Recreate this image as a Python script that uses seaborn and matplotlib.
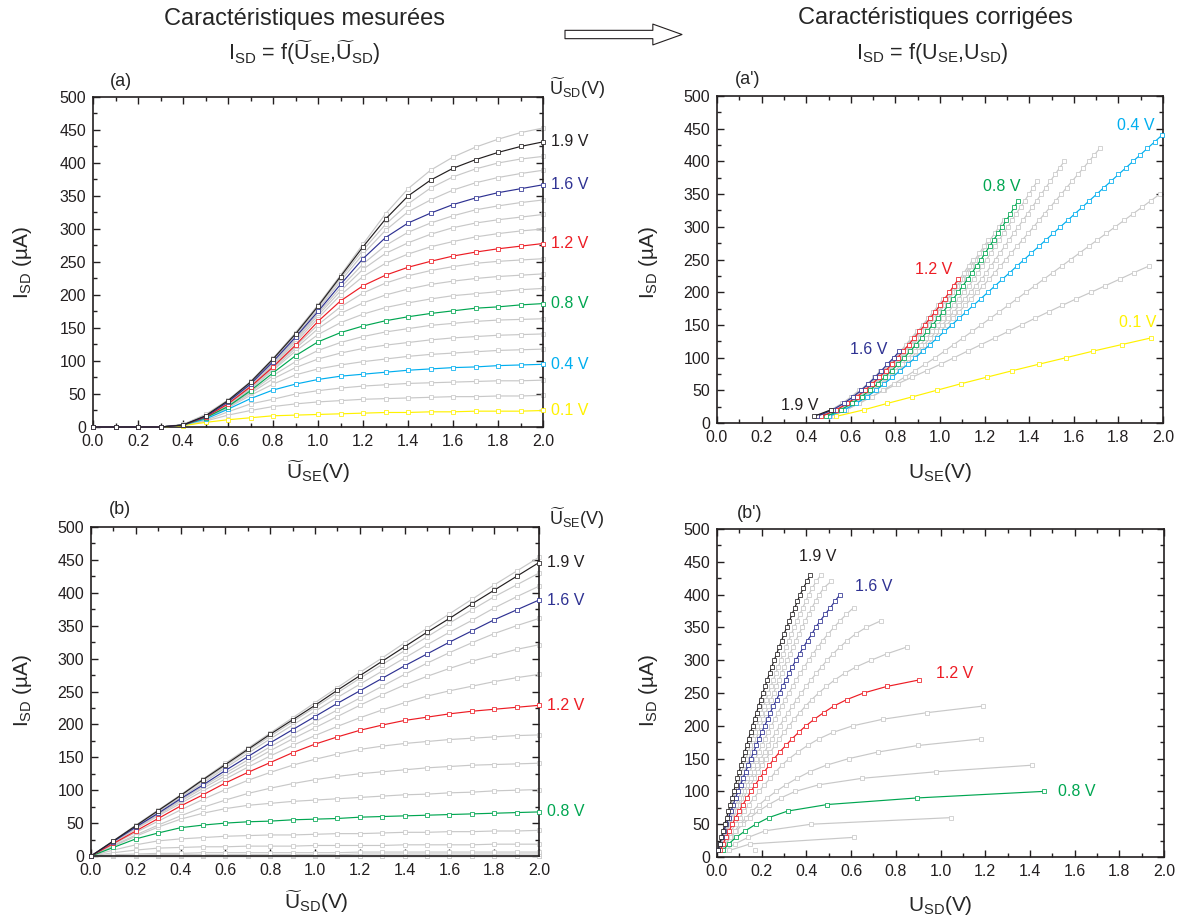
import matplotlib
matplotlib.use("Agg")
import matplotlib.pyplot as plt
from matplotlib.patches import FancyArrowPatch, ArrowStyle
from matplotlib.ticker import MultipleLocator, FormatStrFormatter
import seaborn as sns

sns.set_style("ticks")
plt.rcParams["font.family"] = ["Liberation Sans", "DejaVu Sans"]
plt.rcParams["mathtext.fontset"] = "custom"
plt.rcParams["mathtext.rm"] = "Liberation Sans"
plt.rcParams["mathtext.it"] = "Liberation Sans:italic"
plt.rcParams["mathtext.bf"] = "Liberation Sans:bold"

# ---------------------------------------------------------------- data
# measured voltage grid (V), used as x for (a) and (b)
U_GRID = [0.0, 0.1, 0.2, 0.3, 0.4, 0.5, 0.6, 0.7, 0.8, 0.9, 1.0,
          1.1, 1.2, 1.3, 1.4, 1.5, 1.6, 1.7, 1.8, 1.9, 2.0]

# current steps of the corrected curves (uA), used as y for (a') and (b')
I_STEPS = [10, 20, 30, 40, 50, 60, 70, 80, 90, 100, 110, 120, 130, 140, 150,
           160, 170, 180, 190, 200, 210, 220, 230, 240, 250, 260, 270, 280,
           290, 300, 310, 320, 330, 340, 350, 360, 370, 380, 390, 400, 410,
           420, 430, 440]

# (a) I_SD vs U_SE~, one row per U_SD~
A_LABELS = ["0.1", "0.2", "0.3", "0.4", "0.5", "0.6", "0.7", "0.8", "0.9", "1.0",
            "1.1", "1.2", "1.3", "1.4", "1.5", "1.6", "1.7", "1.8", "1.9", "2.0"]
A_CURRENT = [
    [0, 0, 0, 0, 2, 7, 11, 14, 17, 18, 19, 20, 21, 22, 22, 23, 23, 24, 24, 24, 25],
    [0, 0, 0, 0, 2, 9, 18, 25, 31, 35, 38, 40, 42, 43, 44, 45, 46, 46, 47, 47, 48],
    [0, 0, 0, 0, 3, 10, 23, 35, 42, 50, 55, 59, 62, 64, 66, 67, 68, 69, 70, 70, 71],
    [0, 0, 0, 0, 3, 12, 27, 43, 56, 65, 72, 77, 80, 83, 86, 88, 90, 91, 93, 94, 95],
    [0, 0, 0, 0, 3, 13, 29, 48, 65, 79, 88, 94, 99, 103, 107, 110, 112, 114, 116, 117, 118],
    [0, 0, 0, 0, 3, 14, 30, 51, 73, 90, 103, 112, 119, 124, 128, 132, 135, 137, 139, 140, 141],
    [0, 0, 0, 0, 3, 14, 31, 53, 78, 99, 116, 128, 137, 144, 149, 154, 157, 160, 162, 163, 164],
    [0, 0, 0, 0, 3, 14, 31, 55, 82, 108, 129, 143, 153, 161, 167, 172, 176, 180, 182, 185, 187],
    [0, 0, 0, 0, 3, 15, 32, 57, 86, 115, 140, 158, 171, 181, 188, 194, 199, 202, 205, 208, 210],
    [0, 0, 0, 0, 3, 15, 33, 58, 88, 119, 149, 172, 188, 200, 209, 216, 221, 225, 228, 230, 232],
    [0, 0, 0, 0, 3, 15, 34, 60, 90, 122, 155, 182, 203, 218, 229, 237, 243, 248, 251, 253, 255],
    [0, 0, 0, 0, 3, 15, 35, 61, 91, 124, 160, 191, 214, 230, 242, 251, 259, 265, 270, 274, 278],
    [0, 0, 0, 0, 3, 15, 36, 62, 93, 128, 165, 200, 228, 248, 262, 273, 281, 288, 293, 297, 300],
    [0, 0, 0, 0, 3, 16, 36, 63, 95, 131, 169, 206, 239, 263, 279, 292, 302, 309, 314, 318, 322],
    [0, 0, 0, 0, 3, 16, 37, 64, 97, 133, 172, 211, 247, 275, 295, 309, 320, 329, 335, 340, 344],
    [0, 0, 0, 0, 3, 16, 38, 65, 99, 136, 175, 216, 255, 287, 309, 324, 337, 347, 355, 361, 367],
    [0, 0, 0, 0, 3, 17, 39, 66, 101, 138, 178, 221, 262, 298, 326, 344, 359, 370, 378, 384, 389],
    [0, 0, 0, 0, 3, 17, 39, 67, 102, 140, 181, 225, 268, 307, 338, 362, 379, 391, 400, 406, 410],
    [0, 0, 0, 0, 3, 17, 40, 68, 103, 141, 183, 228, 273, 315, 350, 374, 392, 405, 416, 425, 432],
    [0, 0, 0, 0, 4, 19, 41, 69, 104, 143, 185, 230, 277, 323, 361, 389, 409, 424, 436, 446, 453],
]

# (b) I_SD vs U_SD~, one row per U_SE~
B_LABELS = ["0.1", "0.2", "0.3", "0.4", "0.5", "0.6", "0.7", "0.8", "0.9", "1.0",
            "1.1", "1.2", "1.3", "1.4", "1.5", "1.6", "1.7", "1.8", "1.9", "2.0"]
B_CURRENT = [
    [0, 0, 0, 0, 0, 0, 0, 0, 0, 0, 0, 0, 0, 0, 0, 0, 0, 0, 0, 0, 0],
    [0, 0, 0, 0, 0, 0, 0, 0, 0, 0, 0, 0, 0, 0, 0, 0, 0, 0, 0, 0, 0],
    [0, 0, 0, 0, 0, 0, 0, 0, 0, 0, 0, 0, 0, 0, 0, 0, 0, 0, 0, 0, 0],
    [0, 1, 1, 2, 2, 2, 2, 2, 2, 2, 2, 2, 3, 3, 3, 3, 3, 3, 3, 3, 3],
    [0, 2, 3, 4, 4, 5, 5, 5, 5, 5, 5, 5, 6, 6, 6, 6, 6, 6, 6, 6, 6],
    [0, 5, 9, 12, 13, 14, 14, 15, 15, 15, 16, 16, 16, 16, 17, 17, 17, 17, 18, 18, 18],
    [0, 9, 17, 23, 26, 28, 30, 31, 32, 32, 33, 34, 34, 35, 36, 36, 37, 37, 38, 38, 39],
    [0, 13, 26, 35, 43, 47, 50, 52, 53, 55, 56, 57, 59, 60, 61, 62, 63, 64, 65, 66, 67],
    [0, 15, 30, 44, 56, 65, 72, 77, 80, 83, 85, 87, 89, 91, 93, 94, 96, 97, 99, 100, 101],
    [0, 16, 32, 47, 61, 74, 85, 95, 103, 110, 116, 121, 125, 128, 131, 134, 136, 138, 139, 140, 141],
    [0, 18, 36, 53, 70, 86, 101, 115, 127, 138, 147, 155, 162, 167, 171, 174, 177, 179, 181, 183, 184],
    [0, 19, 38, 57, 76, 93, 111, 127, 142, 157, 170, 181, 191, 199, 206, 211, 216, 220, 223, 226, 229],
    [0, 20, 41, 61, 80, 99, 117, 135, 152, 168, 183, 197, 210, 222, 233, 243, 251, 258, 265, 271, 276],
    [0, 21, 42, 63, 83, 103, 122, 141, 160, 178, 195, 212, 229, 245, 260, 273, 285, 296, 305, 314, 321],
    [0, 22, 43, 64, 85, 106, 126, 146, 166, 185, 204, 222, 240, 258, 276, 293, 309, 324, 338, 350, 361],
    [0, 22, 44, 65, 87, 108, 130, 151, 172, 192, 212, 232, 251, 270, 289, 307, 325, 342, 359, 374, 389],
    [0, 22, 45, 67, 89, 111, 134, 156, 178, 199, 220, 241, 261, 281, 301, 321, 340, 358, 377, 394, 410],
    [0, 23, 46, 68, 91, 114, 137, 160, 182, 204, 226, 248, 270, 291, 312, 333, 354, 374, 394, 412, 430],
    [0, 23, 46, 69, 92, 116, 139, 162, 185, 207, 229, 252, 274, 296, 318, 340, 361, 383, 404, 425, 446],
    [0, 23, 47, 70, 93, 117, 141, 164, 187, 210, 233, 256, 279, 301, 324, 346, 368, 390, 412, 433, 454],
]

# (a') corrected U_SE (V) at each current step, one curve per U_SD
AP_LABELS = ["0.1", "0.2", "0.3", "0.4", "0.5", "0.6", "0.7", "0.8", "0.9", "1.0",
             "1.1", "1.2", "1.3", "1.4", "1.5", "1.6", "1.7", "1.8", "1.9"]
AP_USE = [
    [0.533, 0.657, 0.764, 0.876, 0.985, 1.094, 1.209, 1.325, 1.445, 1.567, 1.688, 1.816, 1.945],
    [0.515, 0.58, 0.635, 0.69, 0.75, 0.81, 0.875, 0.94, 1.003, 1.064, 1.124, 1.185, 1.246,
     1.306, 1.366, 1.425, 1.487, 1.549, 1.612, 1.678, 1.742, 1.806, 1.87, 1.937],
    [0.508, 0.578, 0.638, 0.693, 0.744, 0.793, 0.841, 0.888, 0.934, 0.979, 1.021, 1.062,
     1.103, 1.144, 1.185, 1.225, 1.266, 1.306, 1.346, 1.386, 1.426, 1.466, 1.506, 1.546,
     1.586, 1.626, 1.666, 1.706, 1.746, 1.786, 1.826, 1.866, 1.906, 1.946, 1.986],
    [0.50, 0.57, 0.625, 0.672, 0.713, 0.75, 0.786, 0.821, 0.856, 0.89, 0.923, 0.955, 0.988,
     1.02, 1.053, 1.085, 1.118, 1.15, 1.183, 1.215, 1.248, 1.28, 1.313, 1.345, 1.378, 1.41,
     1.443, 1.475, 1.508, 1.54, 1.573, 1.605, 1.638, 1.67, 1.703, 1.735, 1.768, 1.80, 1.833,
     1.865, 1.898, 1.93, 1.963, 1.995],
    [0.497, 0.566, 0.621, 0.668, 0.71, 0.748, 0.784, 0.819, 0.852, 0.884, 0.914, 0.944,
     0.973, 1.002, 1.03, 1.058, 1.086, 1.113, 1.14, 1.167, 1.194, 1.221, 1.246, 1.271,
     1.296, 1.32, 1.345, 1.37, 1.395, 1.42, 1.444, 1.469, 1.494, 1.519, 1.544, 1.568,
     1.593, 1.618, 1.643, 1.668, 1.692, 1.717],
    [0.495, 0.563, 0.617, 0.663, 0.704, 0.741, 0.776, 0.81, 0.842, 0.872, 0.901, 0.929,
     0.957, 0.984, 1.01, 1.036, 1.062, 1.087, 1.112, 1.137, 1.162, 1.187, 1.208, 1.228,
     1.249, 1.269, 1.29, 1.31, 1.331, 1.351, 1.372, 1.393, 1.413, 1.434, 1.454, 1.475,
     1.495, 1.516, 1.536, 1.557],
    [0.492, 0.56, 0.612, 0.657, 0.696, 0.732, 0.766, 0.798, 0.829, 0.858, 0.886, 0.913,
     0.939, 0.965, 0.99, 1.014, 1.038, 1.061, 1.084, 1.107, 1.13, 1.152, 1.171, 1.19,
     1.209, 1.228, 1.247, 1.266, 1.285, 1.304, 1.323, 1.342, 1.361, 1.38, 1.399, 1.418, 1.437],
    [0.49, 0.555, 0.605, 0.648, 0.685, 0.72, 0.752, 0.783, 0.812, 0.84, 0.867, 0.893,
     0.918, 0.943, 0.967, 0.991, 1.014, 1.037, 1.06, 1.082, 1.103, 1.124, 1.144, 1.164,
     1.184, 1.203, 1.222, 1.241, 1.26, 1.279, 1.298, 1.316, 1.334, 1.35],
    [0.485, 0.55, 0.60, 0.643, 0.68, 0.714, 0.746, 0.776, 0.804, 0.831, 0.857, 0.882,
     0.906, 0.93, 0.953, 0.976, 0.998, 1.02, 1.042, 1.063, 1.084, 1.105, 1.125, 1.145,
     1.165, 1.185, 1.205, 1.225, 1.245, 1.265, 1.285],
    [0.48, 0.547, 0.596, 0.638, 0.675, 0.709, 0.74, 0.77, 0.798, 0.825, 0.851, 0.876,
     0.9, 0.924, 0.947, 0.97, 0.992, 1.014, 1.035, 1.056, 1.077, 1.097, 1.117, 1.137,
     1.157, 1.177, 1.197, 1.217],
    [0.475, 0.542, 0.59, 0.632, 0.669, 0.703, 0.734, 0.763, 0.791, 0.818, 0.843, 0.868,
     0.892, 0.915, 0.938, 0.96, 0.982, 1.004, 1.025, 1.046, 1.067, 1.088, 1.108, 1.128, 1.148],
    [0.468, 0.535, 0.585, 0.627, 0.663, 0.697, 0.728, 0.757, 0.784, 0.81, 0.835, 0.86,
     0.884, 0.908, 0.932, 0.955, 0.978, 1.0, 1.021, 1.042, 1.062, 1.082],
    [0.46, 0.53, 0.58, 0.621, 0.657, 0.69, 0.72, 0.75, 0.777, 0.803, 0.829, 0.854, 0.878,
     0.902, 0.925, 0.948, 0.97, 0.992, 1.013],
    [0.456, 0.526, 0.576, 0.617, 0.653, 0.686, 0.716, 0.745, 0.772, 0.8, 0.826, 0.851,
     0.876, 0.9, 0.923, 0.946, 0.969],
    [0.452, 0.522, 0.572, 0.613, 0.649, 0.682, 0.712, 0.74, 0.768, 0.797, 0.823, 0.848,
     0.872, 0.896],
    [0.448, 0.518, 0.568, 0.61, 0.646, 0.679, 0.709, 0.737, 0.764, 0.793, 0.818],
    [0.444, 0.514, 0.564, 0.606, 0.642, 0.675, 0.705, 0.733],
    [0.438, 0.511, 0.56, 0.601, 0.637],
    [0.433, 0.51],
]

# (b') corrected U_SD (V) at each current step, one curve per U_SE
BP_LABELS = ["0.5", "0.6", "0.7", "0.8", "0.9", "1.0", "1.1", "1.2", "1.3", "1.4",
             "1.5", "1.6", "1.7", "1.8", "1.9"]
BP_USD = [
    [0.171],
    [0.055, 0.149, 0.615],
    [0.035, 0.08, 0.14, 0.216, 0.422, 1.046],
    [0.027, 0.052, 0.086, 0.127, 0.174, 0.231, 0.316, 0.494, 0.894, 1.461],
    [0.02, 0.04, 0.062, 0.087, 0.115, 0.148, 0.186, 0.232, 0.285, 0.35, 0.455, 0.65,
     0.982, 1.411],
    [0.018, 0.037, 0.058, 0.08, 0.104, 0.13, 0.158, 0.19, 0.225, 0.264, 0.308, 0.358,
     0.415, 0.49, 0.59, 0.72, 0.9, 1.182],
    [0.014, 0.03, 0.046, 0.064, 0.083, 0.102, 0.122, 0.143, 0.165, 0.188, 0.212, 0.238,
     0.263, 0.29, 0.323, 0.362, 0.405, 0.455, 0.519, 0.608, 0.742, 0.939, 1.189],
    [0.013, 0.027, 0.04, 0.054, 0.069, 0.083, 0.1, 0.116, 0.134, 0.152, 0.171, 0.191,
     0.212, 0.234, 0.256, 0.28, 0.308, 0.335, 0.365, 0.398, 0.435, 0.477, 0.522, 0.581,
     0.656, 0.76, 0.906],
    [0.009, 0.02, 0.032, 0.045, 0.059, 0.073, 0.088, 0.103, 0.118, 0.134, 0.15, 0.167,
     0.184, 0.202, 0.22, 0.239, 0.259, 0.279, 0.3, 0.322, 0.345, 0.37, 0.396, 0.424,
     0.455, 0.489, 0.527, 0.571, 0.624, 0.69, 0.762, 0.849],
    [0.008, 0.018, 0.029, 0.041, 0.054, 0.067, 0.08, 0.094, 0.108, 0.122, 0.136, 0.151,
     0.166, 0.181, 0.197, 0.213, 0.229, 0.246, 0.263, 0.281, 0.299, 0.318, 0.337, 0.357,
     0.378, 0.399, 0.421, 0.444, 0.468, 0.493, 0.52, 0.55, 0.583, 0.62, 0.668, 0.733],
    [0.007, 0.016, 0.026, 0.037, 0.049, 0.061, 0.073, 0.085, 0.097, 0.109, 0.121, 0.134,
     0.147, 0.16, 0.173, 0.186, 0.2, 0.214, 0.228, 0.243, 0.258, 0.273, 0.289, 0.305,
     0.321, 0.338, 0.355, 0.373, 0.391, 0.41, 0.43, 0.451, 0.473, 0.497, 0.523, 0.55,
     0.579, 0.611],
    [0.006, 0.013, 0.022, 0.031, 0.042, 0.052, 0.063, 0.073, 0.083, 0.094, 0.106, 0.116,
     0.128, 0.14, 0.152, 0.164, 0.176, 0.188, 0.2, 0.213, 0.227, 0.238, 0.252, 0.267,
     0.28, 0.294, 0.308, 0.322, 0.337, 0.353, 0.37, 0.387, 0.405, 0.425, 0.441, 0.462,
     0.484, 0.507, 0.528, 0.55],
    [0.007, 0.015, 0.024, 0.033, 0.043, 0.053, 0.063, 0.072, 0.082, 0.092, 0.102, 0.112,
     0.122, 0.133, 0.143, 0.154, 0.164, 0.175, 0.186, 0.197, 0.208, 0.219, 0.23, 0.242,
     0.253, 0.265, 0.277, 0.289, 0.301, 0.314, 0.327, 0.34, 0.353, 0.367, 0.381, 0.395,
     0.41, 0.425, 0.441, 0.458, 0.477, 0.51],
    [0.006, 0.013, 0.021, 0.03, 0.039, 0.048, 0.057, 0.066, 0.075, 0.084, 0.093, 0.102,
     0.111, 0.121, 0.13, 0.14, 0.149, 0.159, 0.169, 0.179, 0.189, 0.199, 0.209, 0.22,
     0.23, 0.241, 0.252, 0.263, 0.274, 0.285, 0.297, 0.309, 0.321, 0.333, 0.345, 0.358,
     0.371, 0.384, 0.397, 0.411, 0.426, 0.444, 0.465],
    [0.005, 0.012, 0.019, 0.027, 0.035, 0.043, 0.051, 0.059, 0.067, 0.075, 0.083, 0.091,
     0.099, 0.107, 0.116, 0.124, 0.133, 0.141, 0.15, 0.159, 0.168, 0.177, 0.186, 0.195,
     0.205, 0.215, 0.225, 0.235, 0.245, 0.256, 0.267, 0.278, 0.289, 0.3, 0.312, 0.324,
     0.336, 0.348, 0.36, 0.372, 0.387, 0.402, 0.418],
]

# highlighted curves and the positions of their labels in (a') and (b')
COLORS = {"0.1": "#fff200", "0.4": "#00aeef", "0.8": "#00a651",
          "1.2": "#ed1c24", "1.6": "#2e3192", "1.9": "#231f20"}
GRAY = "#c8c8c8"
A_SHOWN = ["0.1", "0.4", "0.8", "1.2", "1.6", "1.9"]
B_SHOWN = ["0.8", "1.2", "1.6", "1.9"]
AP_TEXT = {"0.4": (1.877, 455), "0.8": (1.276, 362), "1.2": (0.97, 234),
           "1.6": (0.68, 112), "1.9": (0.373, 27), "0.1": (1.888, 154)}
BP_TEXT = {"1.9": (0.45, 458), "1.6": (0.70, 413), "1.2": (1.065, 279),
           "0.8": (1.61, 100)}

# ---------------------------------------------------------------- figure
W, H = 1178, 922
fig = plt.figure(figsize=(W / 100, H / 100), dpi=100)


def box(left, top, right, bottom):
    return [left / W, 1 - bottom / H, (right - left) / W, (bottom - top) / H]


def ftext(x, y, s, **kw):
    kw.setdefault("ha", "center")
    kw.setdefault("va", "center")
    fig.text(x / W, 1 - y / H, s, **kw)


def curve(ax, xs, ys, color, z):
    sns.lineplot(x=xs, y=ys, ax=ax, color=color, linewidth=0.85, marker="s",
                 markersize=2.4, markerfacecolor="white", markeredgecolor=color,
                 markeredgewidth=0.55, estimator=None, sort=False, zorder=z,
                 clip_on=False)


def style(ax):
    ax.set_xlim(0, 2.0)
    ax.set_ylim(0, 500)
    ax.xaxis.set_major_locator(MultipleLocator(0.2))
    ax.xaxis.set_minor_locator(MultipleLocator(0.1))
    ax.xaxis.set_major_formatter(FormatStrFormatter("%.1f"))
    ax.yaxis.set_major_locator(MultipleLocator(50))
    ax.yaxis.set_minor_locator(MultipleLocator(25))
    ax.tick_params(which="both", direction="in", top=True, right=True,
                   labelsize=11.5, width=1.0, colors="#231f20")
    ax.tick_params(which="major", length=5, pad=5)
    ax.tick_params(which="minor", length=3)
    for s in ax.spines.values():
        s.set_linewidth(1.2)
        s.set_color("#231f20")
    ax.set_xlabel("")
    ax.set_ylabel("")


ax_a = fig.add_axes(box(93, 97, 543, 427))
ax_ap = fig.add_axes(box(717, 96, 1163, 423))
ax_b = fig.add_axes(box(91, 527, 539, 856))
ax_bp = fig.add_axes(box(717, 529, 1164, 857))

# (a) and (b): one curve per row over the voltage grid
for ax, labels, rows, shown in [(ax_a, A_LABELS, A_CURRENT, A_SHOWN),
                                (ax_b, B_LABELS, B_CURRENT, B_SHOWN)]:
    for lab, row in zip(labels, rows):
        if lab not in shown:
            curve(ax, U_GRID, row, GRAY, 2)
    for lab, row in zip(labels, rows):
        if lab in shown:
            curve(ax, U_GRID, row, COLORS[lab], 3)
            ax.annotate(f"{lab} V", xy=(2.0, row[-1]), xytext=(6, 0),
                        textcoords="offset points", ha="left", va="center",
                        color=COLORS[lab], fontsize=11.5, annotation_clip=False)
    style(ax)

# (a') and (b'): voltage read at each current step
for ax, labels, rows, shown, spots in [(ax_ap, AP_LABELS, AP_USE, A_SHOWN, AP_TEXT),
                                       (ax_bp, BP_LABELS, BP_USD, B_SHOWN, BP_TEXT)]:
    for lab, row in zip(labels, rows):
        if lab not in shown:
            curve(ax, row, I_STEPS[:len(row)], GRAY, 2)
    for lab, row in zip(labels, rows):
        if lab in shown:
            curve(ax, row, I_STEPS[:len(row)], COLORS[lab], 3)
            ax.text(*spots[lab], f"{lab} V", ha="center", va="center",
                    color=COLORS[lab], fontsize=11.5)
    style(ax)

# ---------------------------------------------------------------- texts
ut = r"$\widetilde{\mathrm{U}}$"
ylab = r"I$_{\mathrm{SD}}$ (µA)"
ftext(305, 19, "Caractéristiques mesurées", fontsize=17)
ftext(304, 53, r"I$_{\mathrm{SD}}$ = f(" + ut + r"$_{\mathrm{SE}}$," + ut
      + r"$_{\mathrm{SD}}$)", fontsize=15.5)
ftext(935, 18, "Caractéristiques corrigées", fontsize=17)
ftext(932, 54, r"I$_{\mathrm{SD}}$ = f(U$_{\mathrm{SE}}$,U$_{\mathrm{SD}}$)",
      fontsize=15.5)

arrow = FancyArrowPatch((565 / W, 1 - 34.5 / H), (682 / W, 1 - 34.5 / H),
                        transform=fig.transFigure,
                        arrowstyle=ArrowStyle("Simple", head_length=21,
                                              head_width=15, tail_width=6),
                        mutation_scale=1, facecolor="white", edgecolor="#231f20",
                        linewidth=0.8, shrinkA=0, shrinkB=0)
fig.patches.append(arrow)

ftext(121, 81, "(a)", fontsize=13)
ftext(748, 79, "(a')", fontsize=13)
ftext(120, 509, "(b)", fontsize=13)
ftext(750, 513, "(b')", fontsize=13)

ftext(549, 88, ut + r"$_{\mathrm{SD}}$(V)", ha="left", fontsize=13)
ftext(549, 518, ut + r"$_{\mathrm{SE}}$(V)", ha="left", fontsize=13)

ftext(22, 262, ylab, rotation=90, fontsize=15)
ftext(648, 262, ylab, rotation=90, fontsize=15)
ftext(22, 690, ylab, rotation=90, fontsize=15)
ftext(648, 690, ylab, rotation=90, fontsize=15)

ftext(318, 472, ut + r"$_{\mathrm{SE}}$(V)", fontsize=15)
ftext(940, 472, r"U$_{\mathrm{SE}}$(V)", fontsize=15)
ftext(316, 902, ut + r"$_{\mathrm{SD}}$(V)", fontsize=15)
ftext(940, 905, r"U$_{\mathrm{SD}}$(V)", fontsize=15)

fig.savefig("out.png", dpi=100)
